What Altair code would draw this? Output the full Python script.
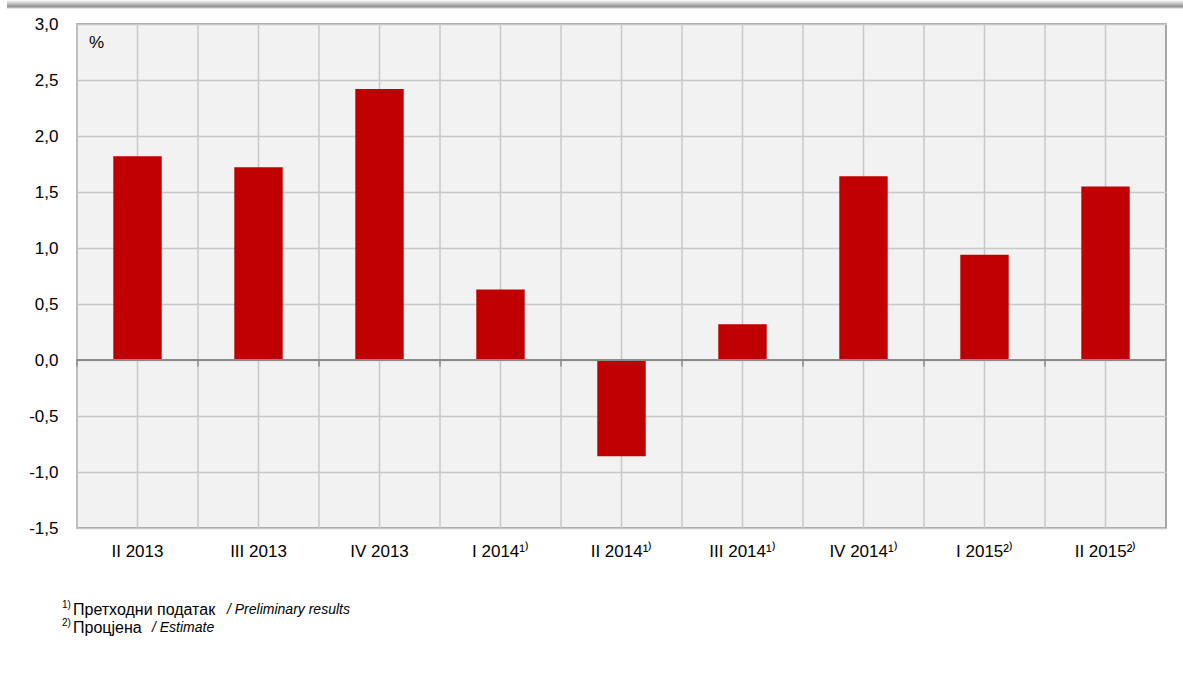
import altair as alt
import pandas as pd

categories = ["II 2013", "III 2013", "IV 2013", "I 2014¹⁾", "II 2014¹⁾", "III 2014¹⁾",
              "IV 2014¹⁾", "I 2015²⁾", "II 2015²⁾"]
values = [1.82, 1.72, 2.42, 0.63, -0.86, 0.32, 1.64, 0.94, 1.55]
y_ticks = [-1.5, -1.0, -0.5, 0.0, 0.5, 1.0, 1.5, 2.0, 2.5, 3.0]

df = pd.DataFrame({"cat": categories, "val": values})
FONT = "Liberation Sans"

xscale = alt.Scale(domain=categories, paddingInner=0, paddingOuter=0)
yscale = alt.Scale(domain=[-1.5, 3.0], nice=False, zero=False)
xaxis = alt.Axis(labelAngle=0, domain=False, ticks=False, grid=False,
                 labelFont=FONT, labelFontSize=17, labelColor="#000000",
                 labelPadding=15, title=None)
yaxis = alt.Axis(values=y_ticks, grid=True, gridColor="#c8c8c8", gridWidth=1.5,
                 domain=False, ticks=False, labelFont=FONT, labelFontSize=17,
                 labelColor="#000000", labelPadding=19, title=None,
                 labelExpr="replace(replace(format(datum.value, '.1f'), '.', ','), '\u2212', '-')")

base = alt.Chart(df)

vgrid_center = base.mark_rule(color="#c8c8c8", strokeWidth=1.5).encode(
    x=alt.X("cat:N", scale=xscale, sort=categories, axis=xaxis)
)
vgrid_bound = base.mark_rule(color="#c8c8c8", strokeWidth=1.5).encode(
    x=alt.X("cat:N", scale=xscale, sort=categories, bandPosition=0, axis=xaxis)
)

bars = base.mark_bar(color="#c00000", width={"band": 0.4}).encode(
    x=alt.X("cat:N", scale=xscale, sort=categories, axis=xaxis),
    y=alt.Y("val:Q", scale=yscale, axis=yaxis),
)

zero_line = alt.Chart(pd.DataFrame({"z": [0.0]})).mark_rule(
    color="#8a8a8a", strokeWidth=2).encode(y=alt.Y("z:Q", scale=yscale, axis=yaxis))

zero_ticks = base.mark_tick(color="#8a8a8a", orient="vertical", size=7, thickness=2,
                            yOffset=3).encode(
    x=alt.X("cat:N", scale=xscale, sort=categories, bandPosition=0, axis=xaxis),
    y=alt.datum(0.0, scale=yscale, axis=yaxis),
)

pct = alt.Chart(pd.DataFrame({"t": ["%"]})).mark_text(
    font=FONT, fontSize=17, align="left", baseline="middle", color="#000000").encode(
    text="t:N", x=alt.value(12), y=alt.value(19))

top_bar = alt.Chart(pd.DataFrame({"a": [0]})).mark_rect(
    fill=alt.LinearGradient(gradient="linear", x1=0, y1=0, x2=0, y2=1,
                            stops=[alt.GradientStop(color="#ffffff", offset=0),
                                   alt.GradientStop(color="#8f8f8f", offset=0.75),
                                   alt.GradientStop(color="#ffffff", offset=1)])).encode(
    x=alt.value(-70), x2=alt.value(1106), y=alt.value(-24), y2=alt.value(-15))


def txt(t, x, y, size, style="normal"):
    return alt.Chart(pd.DataFrame({"t": [t]})).mark_text(
        font=FONT, fontSize=size, fontStyle=style, align="left", baseline="middle",
        color="#000000").encode(text="t:N", x=alt.value(x), y=alt.value(y))


foot = [
    txt("1)", -15, 581, 10),
    txt("Претходни податак", -4, 586, 16),
    txt("/ Preliminary results", 150, 586, 14, "italic"),
    txt("2)", -15, 599, 10),
    txt("Процјена", -4, 604, 16),
    txt("/ Estimate", 75, 604, 14, "italic"),
]

chart = alt.layer(
    vgrid_center, vgrid_bound, bars, zero_line, zero_ticks, pct, top_bar, *foot
).properties(
    width=1089, height=504,
    autosize=alt.AutoSizeParams(type="none"),
    padding={"left": 77, "top": 24, "right": 17, "bottom": 167},
    background="#ffffff",
).configure_view(
    fill="#f2f2f2", stroke="#8c8c8c", strokeWidth=1.5
)

chart.save("out.html", embed_options={"renderer": "svg", "actions": False})
